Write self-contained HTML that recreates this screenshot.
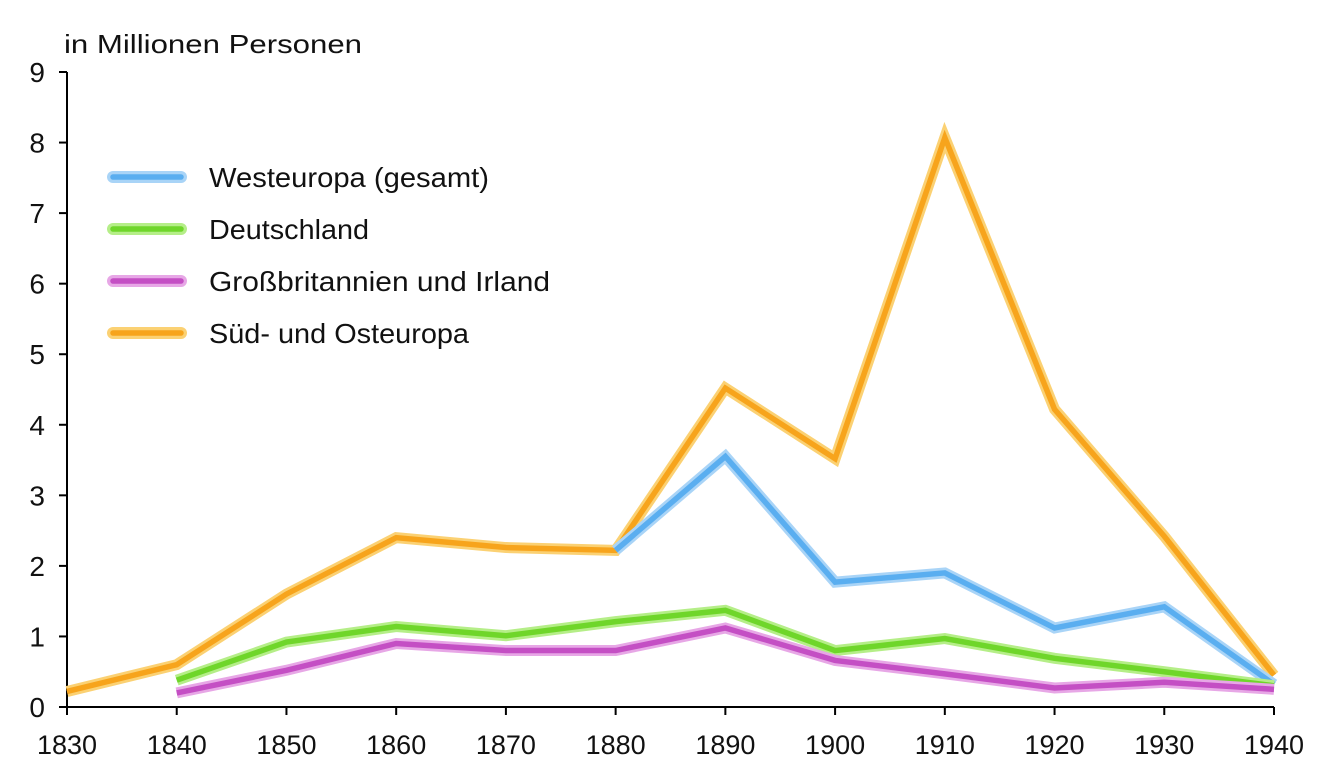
<!DOCTYPE html>
<html><head><meta charset="utf-8"><style>
body{margin:0;background:#fff;}
svg{display:block;font-family:"Liberation Sans",sans-serif;}
</style></head><body>
<svg id="c" width="1336" height="778"></svg>
<script>
const years=[1830,1840,1850,1860,1870,1880,1890,1900,1910,1920,1930,1940];
const yTicks=[0,1,2,3,4,5,6,7,8,9];
const orangeVals=[0.22,0.6,1.6,2.4,2.26,2.22,4.52,3.52,8.07,4.22,2.42,0.45];
const blueVals=[null,null,null,null,null,2.22,3.55,1.77,1.9,1.12,1.42,0.32];
const greenVals=[null,0.38,0.92,1.14,1.01,1.21,1.37,0.8,0.97,0.69,0.5,0.3];
const purpleVals=[null,0.2,0.52,0.9,0.8,0.8,1.12,0.66,0.47,0.27,0.35,0.25];
const seriesNames=["Westeuropa (gesamt)","Deutschland","Großbritannien und Irland","Süd- und Osteuropa"];
const legendLens=[280,160,341,260];
const NS="http://www.w3.org/2000/svg";
const svg=document.getElementById('c');
const x=v=>67+(v-1830)*(1274-67)/110;
const y=v=>707-v*(707-72)/9;
function mk(t,a,p){const e=document.createElementNS(NS,t);for(const k in a)e.setAttribute(k,a[k]);(p||svg).appendChild(e);return e;}
let ax=mk('line',{x1:67,y1:72,x2:67,y2:707,stroke:'#000','stroke-width':2});


ax=mk('line',{x1:66,y1:707,x2:1274,y2:707,stroke:'#000','stroke-width':2});


yTicks.forEach(t=>{
 const l=mk('line',{x1:59,y1:y(t),x2:67,y2:y(t),stroke:'#000','stroke-width':2});
 
 
 const tx=mk('text',{x:45,y:y(t)+10,'font-size':28,'text-anchor':'end',fill:'#111'});
 tx.textContent=t;
 
 
});
years.forEach(t=>{
 const l=mk('line',{x1:x(t),y1:707,x2:x(t),y2:715,stroke:'#000','stroke-width':2});
 
 
 const tx=mk('text',{x:x(t),y:754,'font-size':27,'text-anchor':'middle',fill:'#111'});
 tx.textContent=t;
 
 
});
const tt=mk('text',{x:64,y:53,'font-size':26,fill:'#111',textLength:298,lengthAdjust:'spacingAndGlyphs'});
tt.textContent='in Millionen Personen';


const cols=[['#a9d4f7','#5aaef0'],['#b5ee88','#6fd62a'],['#e7a7e6','#c44fc4'],['#fbd173','#f7a41c']];
const data=[blueVals,greenVals,purpleVals,orangeVals];
const names=['series-westeuropa','series-deutschland','series-grossbritannien','series-sued-osteuropa'];
function path(vals){let d='';vals.forEach((v,i)=>{if(v==null)return;d+=(d?'L':'M')+x(years[i])+','+y(v);});return d;}
[3,0,1,2].forEach(k=>{
 const g=mk('g',{});
 
 
 const d=path(data[k]);
 mk('path',{d:d,fill:'none',stroke:cols[k][0],'stroke-width':11,'stroke-linejoin':'miter'},g);
 mk('path',{d:d,fill:'none',stroke:cols[k][1],'stroke-width':5.5,'stroke-linejoin':'miter'},g);
});
[0,1,2,3].forEach(k=>{
 const ly=177+k*52;
 const g=mk('g',{});
 
 
 mk('line',{x1:113,y1:ly,x2:181,y2:ly,stroke:cols[k][0],'stroke-width':12,'stroke-linecap':'round'},g);
 mk('line',{x1:113,y1:ly,x2:181,y2:ly,stroke:cols[k][1],'stroke-width':5.5,'stroke-linecap':'round'},g);
 const tx=mk('text',{x:209,y:ly+10,'font-size':28,fill:'#111',textLength:legendLens[k],lengthAdjust:'spacingAndGlyphs'},g);
 tx.textContent=seriesNames[k];
});
</script>
</body></html>
